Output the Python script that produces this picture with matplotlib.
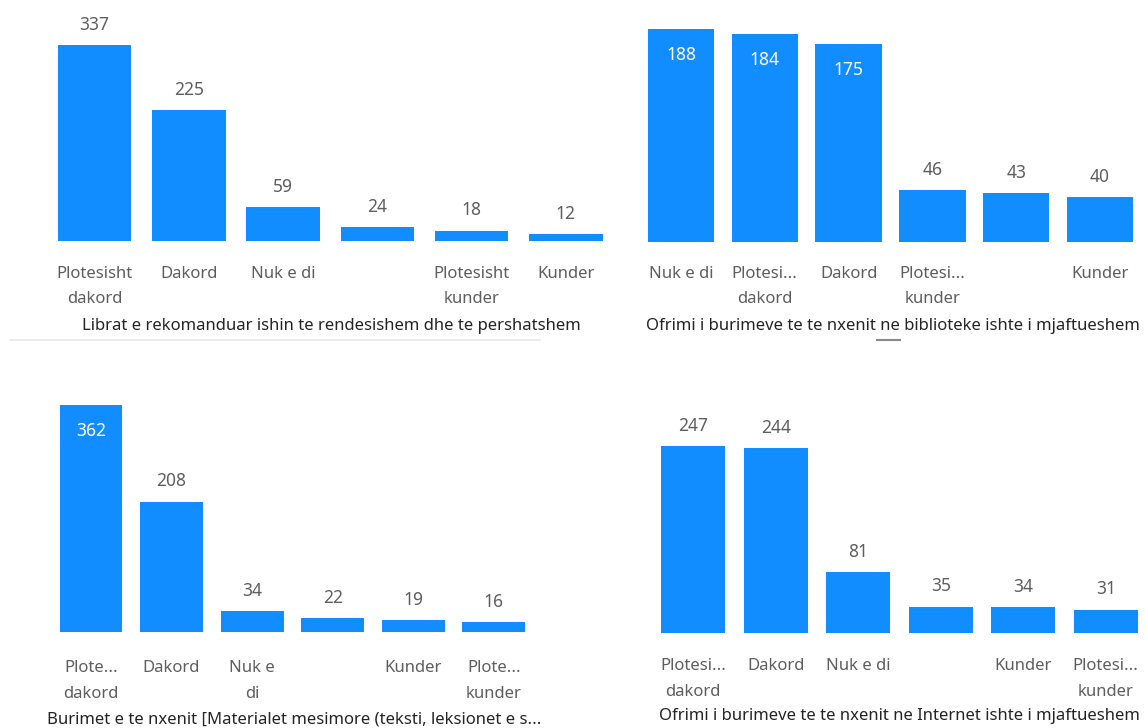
import matplotlib
matplotlib.use("Agg")
import matplotlib.pyplot as plt
from matplotlib.lines import Line2D

# ---- data ----
cats1 = ["Plotesisht\ndakord", "Dakord", "Nuk e di", "", "Plotesisht\nkunder", "Kunder"]
vals1 = [337, 225, 59, 24, 18, 12]
title1 = "Librat e rekomanduar ishin te rendesishem dhe te pershatshem"

cats2 = ["Nuk e di", "Plotesi...\ndakord", "Dakord", "Plotesi...\nkunder", "", "Kunder"]
vals2 = [188, 184, 175, 46, 43, 40]
title2 = "Ofrimi i burimeve te te nxenit ne biblioteke ishte i mjaftueshem"

cats3 = ["Plote...\ndakord", "Dakord", "Nuk e\ndi", "", "Kunder", "Plote...\nkunder"]
vals3 = [362, 208, 34, 22, 19, 16]
title3 = "Burimet e te nxenit [Materialet mesimore (teksti, leksionet e s..."

cats4 = ["Plotesi...\ndakord", "Dakord", "Nuk e di", "", "Kunder", "Plotesi...\nkunder"]
vals4 = [247, 244, 81, 35, 34, 31]
title4 = "Ofrimi i burimeve te te nxenit ne Internet ishte i mjaftueshem"

BLUE = "#118DFF"
LBL = "#605E5C"
TITLE_C = "#252423"
FONT = ["Noto Sans", "DejaVu Sans"]

W, H = 1146, 728
fig = plt.figure(figsize=(W / 100, H / 100), dpi=100)
fig.patch.set_facecolor("white")

# layout per panel
panels = [
    (cats1, vals1, title1, 47.5, 613, 241, 5, 0.5816, 0.78, None, 331, 326, 17.8),
    (cats2, vals2, title2, 639, 1142, 242, 5, 1.133, 0.79, 100, 893, 326, 17.1),
    (cats3, vals3, title3, 50.75, 534, 632, 375, 0.627, 0.78, 300, 294, 719, 20.5),
    (cats4, vals4, title4, 652, 1147, 633, 400, 0.757, 0.78, None, 899, 716, 18.3),
]

for cats, vals, title, xl, xr, base, top, scale, wfrac, inside_thr, tx, ty, pad in panels:
    ax = fig.add_axes([xl / W, 1 - base / H, (xr - xl) / W, (base - top) / H])
    n = len(vals)
    x = list(range(n))
    ax.bar(x, vals, width=wfrac, color=BLUE, edgecolor="none")
    ax.set_xlim(-0.5, n - 0.5)
    ax.set_ylim(0, (base - top) / scale)
    for s in ax.spines.values():
        s.set_visible(False)
    ax.set_yticks([])
    ax.set_xticks(x)
    ax.set_xticklabels(cats, fontsize=12, color=LBL, family=FONT, linespacing=1.8)
    ax.tick_params(axis="x", length=0, pad=pad)
    for xi, v in zip(x, vals):
        if inside_thr is not None and v > inside_thr:
            ax.annotate(str(v), (xi, v), xytext=(0, -19), textcoords="offset points",
                        ha="center", va="center", fontsize=12.5, color="white",
                        family=FONT)
        else:
            ax.annotate(str(v), (xi, v), xytext=(0, 14.5), textcoords="offset points",
                        ha="center", va="center", fontsize=12.5, color=LBL,
                        family=FONT)
    fig.text(tx / W, 1 - ty / H, title, ha="center", va="center", fontsize=12,
             color=TITLE_C, family=FONT)

# separators
fig.add_artist(Line2D([10 / W, 540 / W], [1 - 340 / H, 1 - 340 / H], color="#E8E8E8", lw=1.2))
fig.add_artist(Line2D([877 / W, 900 / W], [1 - 340 / H, 1 - 340 / H], color="#8A8A8A", lw=1.5))

fig.savefig("out.png", dpi=100, facecolor="white")
